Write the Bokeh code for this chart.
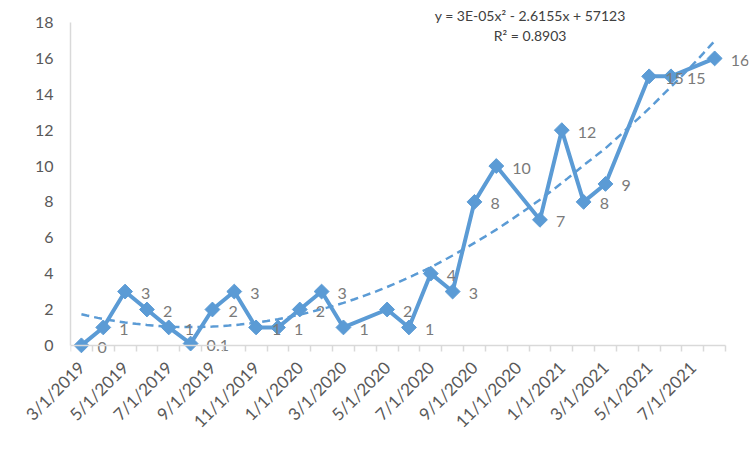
import math
from datetime import date
import numpy as np
from bokeh.plotting import figure
from bokeh.models import FixedTicker, Range1d, Label, ColumnDataSource, LinearAxis
from bokeh.core.properties import value
from bokeh.embed import file_html
from bokeh.resources import INLINE

# ---- data ----
dates = ["2019-03-01", "2019-04-01", "2019-05-01", "2019-06-01", "2019-07-01",
         "2019-08-01", "2019-09-01", "2019-10-01", "2019-11-01", "2019-12-01",
         "2020-01-01", "2020-02-01", "2020-03-01", "2020-05-01", "2020-06-01",
         "2020-07-01", "2020-08-01", "2020-09-01", "2020-10-01", "2020-12-01",
         "2021-01-01", "2021-02-01", "2021-03-01", "2021-05-01", "2021-06-01",
         "2021-08-01"]
values = [0, 1, 3, 2, 1, 0.1, 2, 3, 1, 1, 2, 3, 1, 2, 1, 4, 3, 8, 10, 7, 12, 8, 9, 15, 15, 16]
tick_labels = ["3/1/2019", "5/1/2019", "7/1/2019", "9/1/2019", "11/1/2019",
               "1/1/2020", "3/1/2020", "5/1/2020", "7/1/2020", "9/1/2020",
               "11/1/2020", "1/1/2021", "3/1/2021", "5/1/2021", "7/1/2021"]
y_ticks = [0, 2, 4, 6, 8, 10, 12, 14, 16, 18]
equation_text = "y = 3E-05x² - 2.6155x + 57123"
r2_text = "R² = 0.8903"

# ---- derived positions (month slots, as on an Excel date axis with monthly base unit) ----
start = date(2019, 3, 1)
n_months = 30


def month_index(d):
    return (d.year - start.year) * 12 + (d.month - start.month)


def month_start(m):
    y = start.year + (start.month - 1 + m) // 12
    mo = (start.month - 1 + m) % 12 + 1
    return date(y, mo, 1)


pdates = [date.fromisoformat(s) for s in dates]
xs = [month_index(d) for d in pdates]
days = np.array([(d - start).days for d in pdates], dtype=float)
coef = np.polyfit(days, np.array(values, dtype=float), 2)

# polynomial trendline sampled along the axis
tx, ty = [], []
for m in range(n_months - 1):
    d0 = (month_start(m) - start).days
    d1 = (month_start(m + 1) - start).days
    for f in (0.0, 0.25, 0.5, 0.75):
        tx.append(m + f)
        ty.append(float(np.polyval(coef, d0 + f * (d1 - d0))))
last_day = (month_start(n_months - 1) - start).days
tx.append(n_months - 1)
ty.append(float(np.polyval(coef, last_day)))

labels = [f"{v:g}" for v in values]
src = ColumnDataSource(dict(x=xs, y=values, lab=labels))

BLUE = "#5B9BD5"
FONT = "Lato"
AXIS_GREY = "#d9d9d9"

p = figure(width=750, height=450, output_backend="svg", toolbar_location=None,
           x_range=Range1d(-0.5, 30.55), y_range=Range1d(-0.9, 18.95),
           min_border_left=70, min_border_right=2, min_border_top=5, min_border_bottom=89)
p.outline_line_color = None
p.xgrid.grid_line_color = None
p.ygrid.grid_line_color = None
p.background_fill_color = "white"
p.border_fill_color = "white"

# trendline
p.line(tx, ty, line_color=BLUE, line_width=2.5, line_dash="8 5")

# series
p.line("x", "y", source=src, line_color=BLUE, line_width=4, line_join="round")
p.scatter("x", "y", source=src, marker="square", angle=math.pi / 4, size=10.5,
          fill_color=BLUE, line_color=BLUE)

# data labels
p.text("x", "y", text="lab", source=src, x_offset=16, y_offset=2,
       text_align="left", text_baseline="middle",
       text_font=value(FONT), text_font_size="16px", text_color="#7a7a7a")

edges = [m - 0.5 for m in range(n_months + 1)]
major = list(range(0, n_months, 2))

# category axis line with tick marks between months, drawn at y = 0
base_axis = LinearAxis(fixed_location=0, bounds=(-0.5, n_months - 0.5),
                       ticker=FixedTicker(ticks=[], minor_ticks=edges))
base_axis.axis_line_color = AXIS_GREY
base_axis.axis_line_width = 1.5
base_axis.major_tick_line_color = None
base_axis.minor_tick_in = 0
base_axis.minor_tick_out = 6
base_axis.minor_tick_line_color = AXIS_GREY
base_axis.minor_tick_line_width = 1.5
base_axis.major_label_text_font_size = "0px"
p.add_layout(base_axis, "below")

# date labels
xax = p.xaxis[0]
xax.ticker = FixedTicker(ticks=major)
xax.major_label_overrides = {m: lab for m, lab in zip(major, tick_labels)}
xax.axis_line_color = None
xax.major_tick_line_color = None
xax.minor_tick_line_color = None
xax.major_tick_out = 0
xax.major_tick_in = 0
xax.minor_tick_out = 0
xax.minor_tick_in = 0
xax.major_label_orientation = math.pi / 4
xax.major_label_standoff = 3
xax.major_label_text_font = FONT
xax.major_label_text_font_size = "17px"
xax.major_label_text_color = "#595959"

# y axis
yax = p.yaxis[0]
yax.ticker = FixedTicker(ticks=y_ticks)
yax.bounds = (0, 18)
yax.major_tick_line_color = None
yax.minor_tick_line_color = None
yax.major_tick_out = 0
yax.major_tick_in = 0
yax.axis_line_color = AXIS_GREY
yax.axis_line_width = 1.5
yax.major_label_standoff = 17
yax.major_label_text_font = FONT
yax.major_label_text_font_size = "16px"
yax.major_label_text_color = "#595959"

# trendline equation
p.add_layout(Label(x=20.55, y=18.39, text=equation_text, text_align="center",
                   text_baseline="middle", text_font=FONT, text_font_size="14px",
                   text_color="#404040"))
p.add_layout(Label(x=20.55, y=17.27, text=r2_text, text_align="center",
                   text_baseline="middle", text_font=FONT, text_font_size="14px",
                   text_color="#404040"))

open("out.html", "w").write(file_html(p, INLINE))
